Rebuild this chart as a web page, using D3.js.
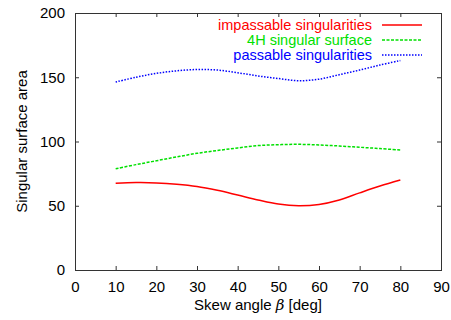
<!DOCTYPE html>
<html>
<head>
<meta charset="utf-8">
<script src="https://cdn.jsdelivr.net/npm/d3@7"></script>
<style>
  body { margin: 0; background: #fff; }
  text { font-family: "Liberation Sans", Arial, sans-serif; }
</style>
</head>
<body>
<div id="chart"></div>
<script>
// Skew angle samples (deg)
var angles = [10, 15, 20, 25, 30, 35, 40, 45, 50, 55, 60, 65, 70, 75, 80];

// Series values
var impassable = [67.5, 68, 67.8, 66.8, 65, 62, 58.3, 54.5, 51.3, 50, 51, 54.5, 60, 65.3, 70];
var surface4H = [78.8, 82, 85, 88, 90.8, 93, 95, 96.8, 97.5, 97.8, 97.3, 96.5, 95.5, 94.5, 93.4];
var passable = [146.3, 150, 153, 155, 156, 155.6, 153.5, 151, 149, 147.3, 148.5, 152, 155.6, 159.5, 163];

var seriesNames = ['impassable singularities', '4H singular surface', 'passable singularities'];
var xTicks = [0, 10, 20, 30, 40, 50, 60, 70, 80, 90];
var yTicks = [0, 50, 100, 150, 200];

var width = 451, height = 320;
var margin = {left: 75, right: 10, top: 13, bottom: 50};

var svg = d3.select('#chart')
            .append('svg')
            .attr('width', width)
            .attr('height', height);

var x = d3.scaleLinear()
          .domain([0, 90])
          .range([margin.left, width - margin.right]);

var y = d3.scaleLinear()
          .domain([0, 200])
          .range([height - margin.bottom, margin.top]);

// inward ticks on all four sides, gnuplot style
var tickLen = 4;
var axisColor = '#333';

function styleAxis(g) {
  g.select('.domain').remove();
  g.selectAll('.tick line').attr('stroke', axisColor);
  g.selectAll('.tick text').attr('font-size', 15).attr('fill', '#000')
   .attr('font-family', '"Liberation Sans", Arial, sans-serif');
}

svg.append('g')
   .attr('transform', 'translate(0,' + y(0) + ')')
   .call(d3.axisBottom(x).tickValues(xTicks).tickSizeInner(-tickLen).tickSizeOuter(0).tickPadding(11))
   .call(styleAxis);

svg.append('g')
   .attr('transform', 'translate(0,' + y(200) + ')')
   .call(d3.axisTop(x).tickValues(xTicks).tickSizeInner(-tickLen).tickSizeOuter(0).tickFormat(''))
   .call(styleAxis);

svg.append('g')
   .attr('transform', 'translate(' + x(0) + ',0)')
   .call(d3.axisLeft(y).tickValues(yTicks).tickSizeInner(-tickLen).tickSizeOuter(0).tickPadding(10))
   .call(styleAxis);

svg.append('g')
   .attr('transform', 'translate(' + x(90) + ',0)')
   .call(d3.axisRight(y).tickValues(yTicks).tickSizeInner(-tickLen).tickSizeOuter(0).tickFormat(''))
   .call(styleAxis);

// plot border
svg.append('rect')
   .attr('x', x(0) + 0.5)
   .attr('y', y(200) + 0.5)
   .attr('width', x(90) - x(0))
   .attr('height', y(0) - y(200))
   .attr('fill', 'none')
   .attr('stroke', axisColor)
   .attr('stroke-width', 1);

// axis titles
svg.append('text')
   .attr('x', x(45))
   .attr('y', 310)
   .attr('text-anchor', 'middle')
   .attr('font-size', 15)
   .call(function(t) {
     t.append('tspan').text('Skew angle ');
     t.append('tspan').attr('font-style', 'italic').attr('font-family', '"DejaVu Serif", serif').text('β');
     t.append('tspan').text(' [deg]');
   });

svg.append('text')
   .attr('transform', 'translate(27,' + y(100) + ') rotate(-90)')
   .attr('text-anchor', 'middle')
   .attr('font-size', 15)
   .text('Singular surface area');

// lines
var series = [
  {name: seriesNames[0], values: impassable, color: '#ff0000', dash: null},
  {name: seriesNames[1], values: surface4H, color: '#00e000', dash: '3,1.5'},
  {name: seriesNames[2], values: passable, color: '#0000ff', dash: '1.5,1.5'}
];

var line = d3.line()
             .curve(d3.curveCatmullRom)
             .x(function(d) { return x(d[0]); })
             .y(function(d) { return y(d[1]); });

series.forEach(function(s, i) {
  var pts = angles.map(function(a, j) { return [a, s.values[j]]; });
  svg.append('path')
     .attr('d', line(pts))
     .attr('fill', 'none')
     .attr('stroke', s.color)
     .attr('stroke-width', 1.5)
     .attr('stroke-dasharray', s.dash);

  // legend
  var ly = 25 + i * 15;
  svg.append('text')
     .attr('x', 372)
     .attr('y', ly)
     .attr('dy', '0.35em')
     .attr('text-anchor', 'end')
     .attr('font-size', 14.5)
     .attr('fill', s.color)
     .text(s.name);
  svg.append('line')
     .attr('x1', 382)
     .attr('x2', 422)
     .attr('y1', ly)
     .attr('y2', ly)
     .attr('stroke', s.color)
     .attr('stroke-width', 1.5)
     .attr('stroke-dasharray', s.dash);
});
</script>
</body>
</html>
